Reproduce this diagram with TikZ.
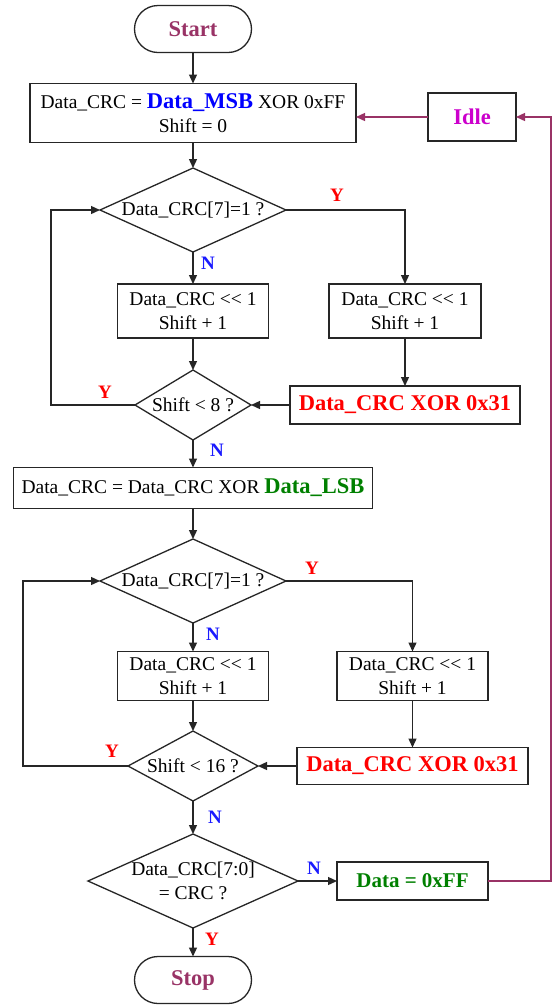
\documentclass[tikz,border=0pt]{standalone}
\usepackage{fontspec}
\setmainfont{Liberation Serif}
\usetikzlibrary{arrows.meta,shapes.geometric}
\definecolor{plum}{HTML}{993366}
\definecolor{idlemag}{HTML}{CC00CC}
\definecolor{dgreen}{HTML}{008000}
\definecolor{nblue}{HTML}{1A1AFF}
\newcommand{\nrmf}{\fontsize{19.5}{24}\selectfont}
\newcommand{\bigbf}{\bfseries\fontsize{22.5}{24}\selectfont}
\newcommand{\shl}{<{}<}
\begin{document}
\begin{tikzpicture}[x=1pt,y=-1pt,
  every node/.style={inner sep=0pt, outer sep=0pt},
  ln/.style={line width=1.3pt, draw=black!85},
  proc/.style={ln, rectangle, align=center, font=\nrmf},
  term/.style={ln, rectangle, rounded corners=23.5pt, minimum width=117pt, minimum height=47pt, font=\bigbf, text=plum},
  dec/.style={ln, diamond},
  dtxt/.style={align=center, font=\nrmf},
  arr/.style={ln, -{Triangle[length=9pt,width=8pt]}},
  parr/.style={line width=1.3pt, draw=plum, -{Triangle[length=9pt,width=8pt]}},
  ylab/.style={font=\bfseries\fontsize{19}{20}\selectfont, text=red},
  nlab/.style={font=\bfseries\fontsize{19}{20}\selectfont, text=nblue}]
\useasboundingbox (0,0) rectangle (552,1005);
\fill[white] (0,0) rectangle (552,1005);

% main column
\node[term] (start) at (193,29) {Start};
\node[proc, minimum width=326pt, minimum height=59pt] (b1) at (193,113)
  {Data\_CRC = {\bigbf\color{blue}Data\_MSB} XOR 0xFF\\Shift = 0};
\node[proc, minimum width=88pt, minimum height=48pt, font=\bigbf, text=idlemag] (idle) at (472,117) {Idle};

\node[dec, minimum width=186pt, minimum height=84pt] (d1) at (193,210) {};
\node[dtxt] (d1t) at (d1.center) {Data\_CRC[7]=1 ?};
\node[proc, minimum width=151pt, minimum height=54pt] (b2L) at (193,311) {Data\_CRC \shl{} 1\\Shift + 1};
\node[proc, minimum width=152pt, minimum height=54pt] (b2R) at (405,311) {Data\_CRC \shl{} 1\\Shift + 1};
\node[dec, minimum width=116pt, minimum height=70pt] (d2) at (193,405) {};
\node[dtxt] (d2t) at (d2.center) {Shift < 8 ?};
\node[proc, minimum width=230pt, minimum height=38pt, font=\bigbf, text=red] (r1) at (405,405) {Data\_CRC XOR 0x31};

\node[proc, minimum width=359pt, minimum height=41pt] (b3) at (193,488)
  {Data\_CRC = Data\_CRC XOR {\bigbf\color{dgreen}Data\_LSB}};

\node[dec, minimum width=186pt, minimum height=84pt] (d3) at (193,581) {};
\node[dtxt] (d3t) at (d3.center) {Data\_CRC[7]=1 ?};
\node[proc, minimum width=151pt, minimum height=49pt] (b4L) at (193,676) {Data\_CRC \shl{} 1\\Shift + 1};
\node[proc, minimum width=151pt, minimum height=49pt] (b4R) at (412.5,676) {Data\_CRC \shl{} 1\\Shift + 1};
\node[dec, minimum width=130pt, minimum height=70pt] (d4) at (193,766) {};
\node[dtxt] (d4t) at (d4.center) {Shift < 16 ?};
\node[proc, minimum width=231pt, minimum height=37pt, font=\bigbf, text=red] (r2) at (412.5,766) {Data\_CRC XOR 0x31};

\node[dec, minimum width=210pt, minimum height=94pt] (d5) at (193,881) {};
\node[dtxt] (d5t) at (d5.center) {Data\_CRC[7:0]\\= CRC ?};
\node[proc, minimum width=151pt, minimum height=38pt, font=\bfseries\fontsize{21}{24}\selectfont, text=dgreen] (fin) at (412.5,881) {Data = 0xFF};
\node[term] (stop) at (193,980) {Stop};

% loop corner coordinates
\coordinate (l1) at (51,405);
\coordinate (l2) at (23,766);
\coordinate (rt) at (551,117);

% connectors
\draw[arr] (start) -- (b1);
\draw[arr] (b1) -- (d1);
\draw[arr] (d1) -- (b2L);
\draw[arr] (b2L) -- (d2);
\draw[arr] (d1.east) -| (b2R.north);
\draw[arr] (b2R) -- (r1);
\draw[arr] (r1.west) -- (d2.east);
\draw[arr] (d2.west) -- (l1) |- (d1.west);
\draw[arr] (d2) -- (b3);
\draw[arr] (b3) -- (d3);
\draw[arr] (d3) -- (b4L);
\draw[arr] (b4L) -- (d4);
\draw[arr] (d3.east) -| (b4R.north);
\draw[arr] (b4R) -- (r2);
\draw[arr] (r2.west) -- (d4.east);
\draw[arr] (d4.west) -- (l2) |- (d3.west);
\draw[arr] (d4) -- (d5);
\draw[arr] (d5.east) -- (fin.west);
\draw[arr] (d5) -- (stop);
\draw[parr] (fin.east) -| (rt) -- (idle.east);
\draw[parr] (idle.west) -- (idle.west -| b1.east);

% branch labels
\node[ylab] (y1) at (337,195) {Y};
\node[nlab] (n1) at (208,263) {N};
\node[ylab] (y2) at (105,392) {Y};
\node[nlab] (n2) at (217,450) {N};
\node[ylab] (y3) at (312,568) {Y};
\node[nlab] (n3) at (213,634) {N};
\node[ylab] (y4) at (112,751) {Y};
\node[nlab] (n4) at (215,817) {N};
\node[nlab] (n5) at (314,868) {N};
\node[ylab] (y5) at (212,939) {Y};
\end{tikzpicture}
\end{document}
